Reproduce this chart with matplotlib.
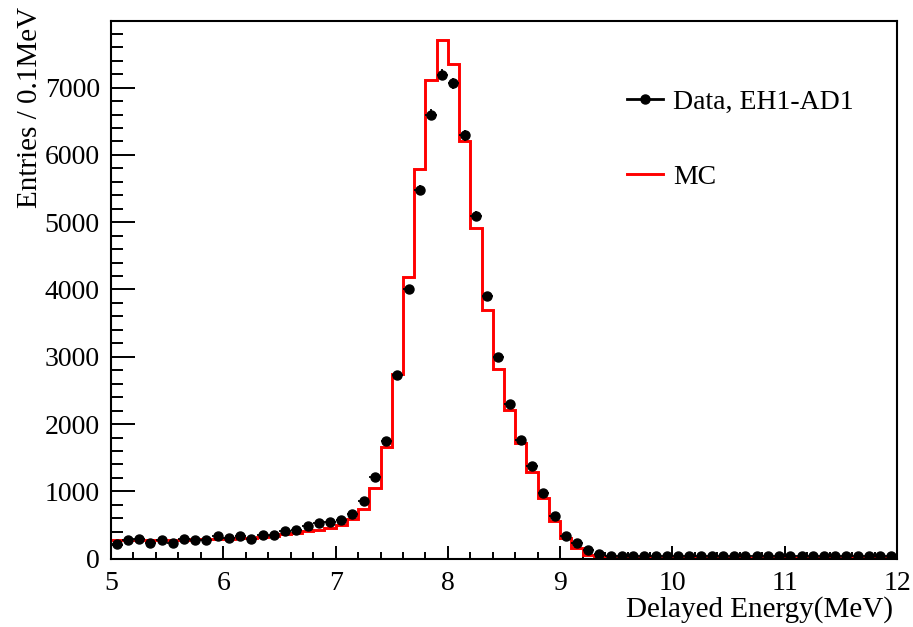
import numpy as np
import matplotlib
matplotlib.use("Agg")
import matplotlib.pyplot as plt
from matplotlib.ticker import MultipleLocator
from matplotlib.lines import Line2D

plt.rcParams['font.family'] = ['Liberation Serif', 'DejaVu Serif']

# 0.1 MeV bins from 5 to 12 MeV
bin_edges = np.round(np.arange(5.0, 12.0001, 0.1), 2)
bin_centers = (bin_edges[:-1] + bin_edges[1:]) / 2

data_counts = [
    224, 273, 285, 234, 273, 234, 298, 273, 273, 333,
    313, 333, 285, 358, 345, 415, 433, 490, 530, 538,
    578, 670, 850, 1210, 1755, 2735, 4010, 5480, 6600, 7195,
    7065, 6290, 5095, 3900, 2990, 2300, 1760, 1375, 980, 640,
    335, 228, 122, 70, 40, 35, 38, 33, 36, 34,
    35, 37, 33, 36, 35, 34, 37, 35, 33, 36,
    35, 34, 36, 35, 33, 36, 34, 35, 36, 34,
]
mc_counts = [
    270, 272, 274, 276, 278, 280, 283, 286, 289, 292,
    296, 300, 305, 320, 340, 360, 380, 405, 430, 460,
    507, 592, 740, 1050, 1665, 2740, 4180, 5785, 7120, 7705,
    7350, 6200, 4910, 3700, 2820, 2210, 1716, 1290, 895, 567,
    310, 165, 50, 18, 8, 4, 3, 3, 3, 3,
    3, 3, 3, 3, 3, 3, 3, 3, 3, 3,
    3, 3, 3, 3, 3, 3, 3, 3, 3, 3,
]

data_counts = np.array(data_counts, dtype=float)
mc_counts = np.array(mc_counts, dtype=float)

fig = plt.figure(figsize=(9.13, 6.27), dpi=100)
ax = fig.add_axes([0.1216, 0.109, 0.8609, 0.8575])

ax.stairs(mc_counts, bin_edges, baseline=None, color='red', linewidth=2.1, zorder=2)
ax.errorbar(bin_centers, data_counts, xerr=0.05, yerr=np.sqrt(data_counts),
            fmt='o', color='black', markersize=6.5, elinewidth=1.3, capsize=0, zorder=3)

ax.set_xlim(5, 12)
ax.set_ylim(0, 7990)
ax.xaxis.set_major_locator(MultipleLocator(1))
ax.xaxis.set_minor_locator(MultipleLocator(0.2))
ax.yaxis.set_major_locator(MultipleLocator(1000))
ax.yaxis.set_minor_locator(MultipleLocator(200))

ax.tick_params(axis='both', which='both', direction='in', top=False, right=False,
               width=1.4, labelsize=20)
ax.tick_params(axis='y', which='major', length=17, pad=8)
ax.tick_params(axis='y', which='minor', length=8.6)
ax.tick_params(axis='x', which='major', length=9.4, pad=9)
ax.tick_params(axis='x', which='minor', length=5)
for s in ax.spines.values():
    s.set_linewidth(1.5)

ax.set_xlabel('Delayed Energy(MeV)', fontsize=21, loc='right')
ax.xaxis.set_label_coords(0.995, -0.07)
ax.set_ylabel('Entries / 0.1MeV', fontsize=21, loc='top')
ax.yaxis.set_label_coords(-0.087, 1.026)

handles = [Line2D([], [], color='black', marker='o', markersize=6.5, linewidth=2),
           Line2D([], [], color='red', linewidth=2.1)]
ax.legend(handles, ['Data, EH1-AD1', 'MC'], loc='upper left', bbox_to_anchor=(0.6565, 0.873),
          frameon=False, fontsize=20, borderpad=0, borderaxespad=0,
          handlelength=1.3, handletextpad=0.35, labelspacing=1.78)

fig.savefig('out.png', dpi=100)
